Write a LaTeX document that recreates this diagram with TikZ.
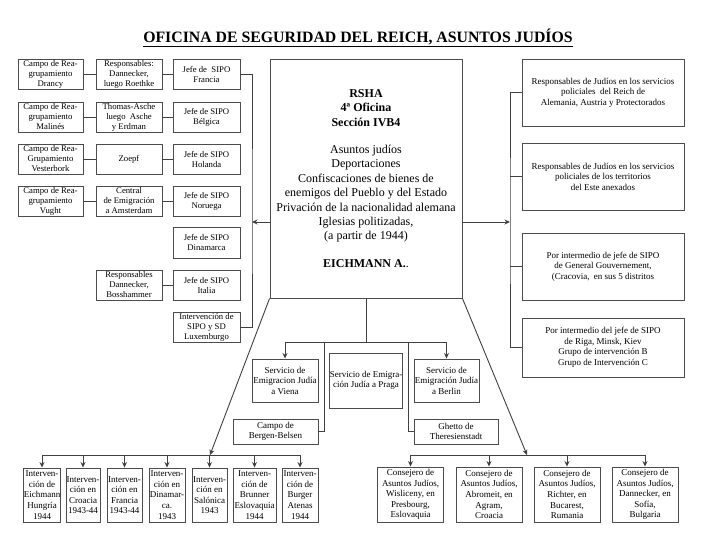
\documentclass[tikz,border=0pt]{standalone}
\usepackage{fontspec}
\setmainfont{Liberation Serif}
\usetikzlibrary{arrows.meta}

\begin{document}
\begin{tikzpicture}[x=1pt, y=-1pt, >={Stealth[length=5.5pt,width=5pt]},
  caja/.style={draw=black!70, line width=0.9pt, align=center, inner sep=0.5pt,
    font=\fontsize{8.7}{10}\selectfont},
  media/.style={caja, font=\fontsize{9}{10.5}\selectfont},
  baja/.style={caja, font=\fontsize{9}{10.6}\selectfont},
  wh/.style 2 args={minimum width=#1pt, minimum height=#2pt},
  linea/.style={draw=black!75, line width=0.9pt}]
  \useasboundingbox (0,0) rectangle (720,540);
  \node (titulo) at (358,38) {\fontsize{15.8}{18}\selectfont\bfseries
    \underline{OFICINA DE SEGURIDAD DEL REICH, ASUNTOS JUDÍOS}};

  \node[caja, wh={192}{239}, font=\fontsize{12}{14.4}\selectfont] (rsha) at (366,178.5)
    {\textbf{RSHA}\\\textbf{4ª Oficina}\\\textbf{Sección IVB4}\\[13pt]
     Asuntos judíos\\Deportaciones\\Confiscaciones de bienes de\\
     enemigos del Pueblo y del Estado\\Privación de la nacionalidad alemana\\
     Iglesias politizadas,\\(a partir de 1944)\\[13pt]\textbf{EICHMANN A.}.};

  % columna izquierda
  \node[caja, wh={65}{30}] (cam1) at (50.5,74) {Campo de Rea-\\grupamiento\\Drancy};
  \node[caja, wh={66}{30}] (res1) at (129,74) {Responsables:\\Dannecker,\\luego Roethke};
  \node[caja, wh={67}{30}] (jef1) at (206.5,74) {Jefe de \ SIPO\\Francia};
  \node[caja, wh={65}{30}] (cam2) at (50.5,117) {Campo de Rea-\\grupamiento\\Malinés};
  \node[caja, wh={66}{30}] (res2) at (129,117) {Thomas-Asche\\luego \ Asche\\y Erdman};
  \node[caja, wh={67}{30}] (jef2) at (206.5,117) {Jefe de SIPO\\Bélgica};
  \node[caja, wh={65}{30}] (cam3) at (50.5,159) {Campo de Rea-\\Grupamiento\\Vesterbork};
  \node[caja, wh={66}{30}] (res3) at (129,159) {Zoepf};
  \node[caja, wh={67}{30}] (jef3) at (206.5,159) {Jefe de SIPO\\Holanda};
  \node[caja, wh={65}{30}] (cam4) at (50.5,201) {Campo de Rea-\\grupamiento\\Vught};
  \node[caja, wh={66}{30}] (res4) at (129,201) {Central\\de Emigración\\a Amsterdam};
  \node[caja, wh={67}{30}] (jef4) at (206.5,201) {Jefe de SIPO\\Noruega};
  \node[caja, wh={67}{31}] (jef5) at (206.5,242.5) {Jefe de SIPO\\Dinamarca};
  \node[caja, wh={66}{30}] (res6) at (129,285) {Responsables\\Dannecker,\\Bosshammer};
  \node[caja, wh={67}{30}] (jef6) at (206.5,285) {Jefe de SIPO\\Italia};
  \node[caja, wh={67}{30}] (jef7) at (206.5,327) {Intervención de\\SIPO y SD\\Luxemburgo};

  \foreach \i in {1,...,4}
    \draw[linea] (cam\i) -- (res\i) (res\i) -- (jef\i);
  \draw[linea] (res6) -- (jef6);
  \coordinate (izq) at (252,222);
  \draw[linea] (jef1.east) -| (izq) |- (jef7.east);
  \draw[linea, ->] (rsha.west |- izq) -- (izq);

  % columna derecha
  \node[media, wh={162}{67}] (r1) at (603,92.5) {Responsables de Judíos en los servicios\\
    policiales \ del Reich de\\Alemania, Austria y Protectorados};
  \node[media, wh={162}{67}] (r2) at (603,176.5) {Responsables de Judíos en los servicios\\
    policiales de los territorios\\del Este anexados};
  \node[media, wh={162}{67}] (r3) at (603,266.5) {Por intermedio de jefe de SIPO\\
    de General Gouvernement,\\(Cracovia, \ en sus 5 distritos};
  \node[media, wh={162}{59}] (r4) at (603,347.5) {Por intermedio del jefe de SIPO\\
    de Riga, Minsk, Kiev\\Grupo de intervención B\\Grupo de Intervención C};

  \coordinate (der) at (510,222);
  \draw[linea, ->] (rsha.east |- der) -- (der);
  \draw[linea] (r1.west) -| (der) |- (r4.west);
  \draw[linea] (r2.west) -- (r2.west -| der);
  \draw[linea] (r3.west) -- (r3.west -| der);

  % centro
  \node[media, wh={66}{43}] (viena) at (285,380.5) {Servicio de\\Emigracion Judía\\a Viena};
  \node[media, wh={72}{55}] (praga) at (366,380.5) {Servicio de Emigra-\\ción Judía a Praga};
  \node[media, wh={65}{43}] (berlin) at (446.5,380.5) {Servicio de\\Emigración Judía\\a Berlin};
  \node[media, wh={85}{25}] (bergen) at (275.5,431.5) {Campo de\\Bergen-Belsen};
  \node[media, wh={84}{25}] (theres) at (456,431.5) {Ghetto de\\Theresienstadt};

  \coordinate (bif) at (366,342);
  \coordinate (rb) at (324,342);
  \coordinate (rt) at (408,342);
  \draw[linea] (rsha) -- (bif);
  \draw[linea, ->] (bif) -| (viena.north);
  \draw[linea, ->] (bif) -| (berlin.north);
  \draw[linea] (rb) |- (bergen.east);
  \draw[linea] (rt) |- (theres.west);

  % fila inferior
  \foreach \i/\x/\w/\t in {1/42/36/{Interven-\\ción de\\Eichmann\\Hungría\\1944},
      2/83/34/{Interven-\\ción en\\Croacia\\1943-44},
      3/124.5/35/{Interven-\\ción en\\Francia\\1943-44},
      4/167/36/{Interven-\\ción en\\Dinamar-\\ca.\\1943},
      5/209.5/35/{Interven-\\ción en\\Salónica\\1943},
      6/254.5/43/{Interven-\\ción de\\Brunner\\Eslovaquia\\1944},
      7/300/36/{Interven-\\ción de\\Burger\\Atenas\\1944}}
    \node[baja, wh={\w}{54}] (int\i) at (\x,495) {\t};
  \foreach \i/\x/\t in {1/410.5/{Wisliceny, en\\Presbourg,\\Eslovaquia},
      2/489/{Abromeit, en\\Agram,\\Croacia},
      3/567/{Richter, en\\Bucarest,\\Rumania},
      4/645/{Dannecker, en\\Sofía,\\Bulgaria}}
    \node[baja, wh={66}{55}] (con\i) at (\x,494.5) {Consejero de\\Asuntos Judíos,\\\t};

  \coordinate (ib) at (210,455);
  \coordinate (db) at (527,455);
  \draw[linea, ->] (rsha.south west) -- (ib);
  \draw[linea, ->] (rsha.south east) -- (db);
  \draw[linea] (int1.north |- ib) -- (int7.north |- ib);
  \draw[linea] (con1.north |- db) -- (con4.north |- db);
  \foreach \i in {1,...,7}
    \draw[linea, ->] (int\i.north |- ib) -- (int\i.north);
  \foreach \i in {1,...,4}
    \draw[linea, ->] (con\i.north |- db) -- (con\i.north);
\end{tikzpicture}
\end{document}
